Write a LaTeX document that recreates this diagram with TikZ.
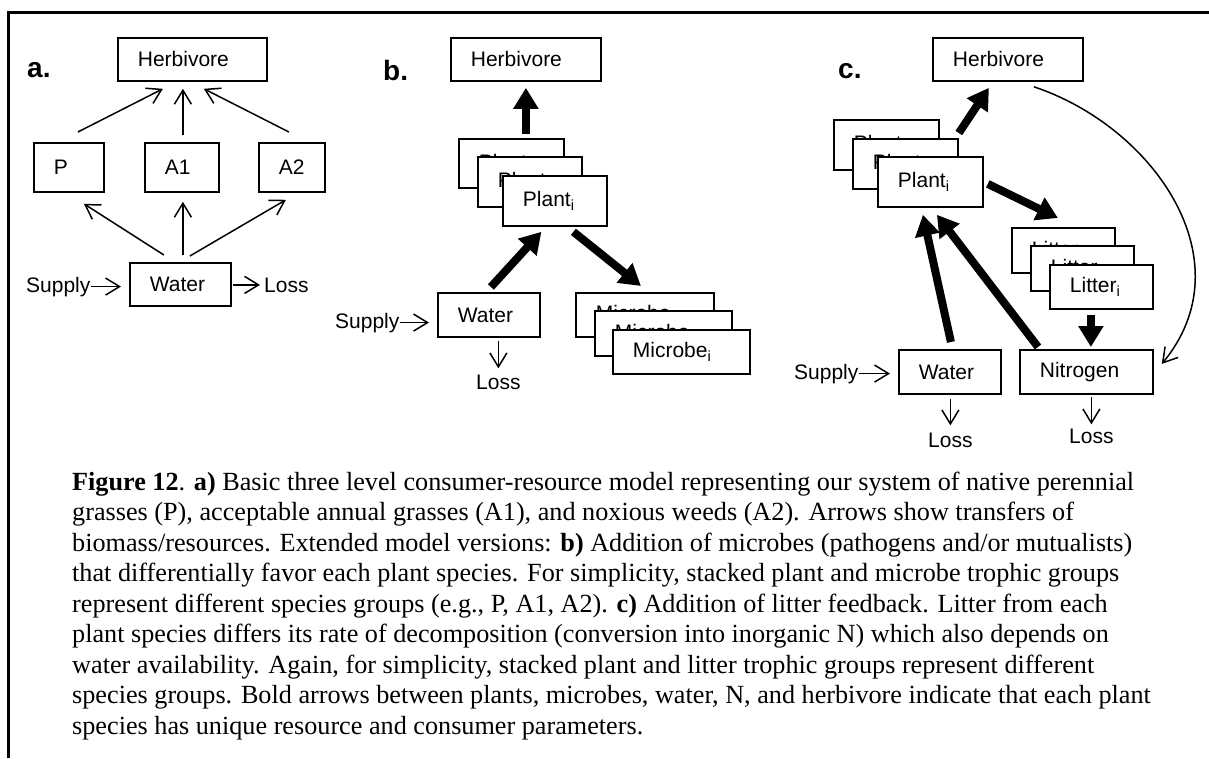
\documentclass[tikz,border=0pt]{standalone}
\usepackage{fontspec}
\setmainfont{Liberation Serif}
\setsansfont{Liberation Sans}
\usetikzlibrary{arrows.meta,calc}
\begin{document}
\begin{tikzpicture}[x=1pt,y=-1pt,
  box/.style={draw, line width=1.8pt, fill=white, anchor=north west, inner xsep=20pt, inner ysep=0pt, align=left, font=\sffamily\fontsize{21}{25}\selectfont},
  lbl/.style={inner sep=0pt, anchor=base west, font=\sffamily\fontsize{21}{25}\selectfont},
  panel/.style={inner sep=0pt, anchor=base west, font=\sffamily\bfseries\fontsize{28}{32}\selectfont},
  thinarrow/.style={line width=1.5pt, -{Straight Barb[length=14pt,width=17pt]}},
  thickarrow/.style={line width=8pt, -{Triangle[length=21pt,width=24pt]}},
  frame/.style={line width=3pt}
]
\useasboundingbox (0,0) rectangle (1209,758);
\draw[frame] (8,758) -- (8,12) -- (1209,12);

% ---------- panel a ----------
\node[panel] (la) at (27,77) {a.};
\node[box, text width=109pt, minimum height=43pt] (Ha) at (117,37) {Herbivore};
\node[box, text width=30pt, minimum height=49pt] (P) at (33,142) {P};
\node[box, text width=34pt, minimum height=49pt] (A1) at (144,142) {A1};
\node[box, text width=26pt, minimum height=49pt] (A2) at (258,142) {A2};
\node[box, text width=61pt, minimum height=43pt] (Wa) at (129,262) {Water};
\node[lbl] (SupA) at (26,292) {Supply};
\node[lbl] (LossA) at (264,292) {Loss};

\draw[thinarrow] ($(P.north)+(9,-10)$) -- ($(Ha.south)+(-29.5,7)$);
\draw[thinarrow] ($(A1.north)+(1,-7)$) -- ($(Ha.south)+(-9.5,7)$);
\draw[thinarrow] ($(A2.north)+(-3,-10)$) -- ($(Ha.south)+(11.5,7)$);
\draw[thinarrow] ($(Wa.north)+(-16.5,-7)$) -- ($(P.south)+(15,11)$);
\draw[thinarrow] ($(Wa.north)+(2.5,-7)$) -- ($(A1.south)+(1,9)$);
\draw[thinarrow] ($(Wa.north)+(9.5,-6)$) -- ($(A2.south)+(-6,7)$);
\draw[thinarrow] (SupA.east) -- ($(SupA.east -| Wa.west)+(-8,0)$);
\draw[thinarrow] ($(Wa.east |- LossA.west)+(1,0)$) -- ($(LossA.west)+(-4,0)$);

% ---------- panel b ----------
\node[panel] (lb) at (383,80) {b.};
\node[box, text width=110pt, minimum height=43pt] (Hb) at (450,37) {Herbivore};
\node[box, text width=65pt, minimum height=49pt] (Pb1) at (458,138) {Plant\textsubscript{i}};
\node[box, text width=64pt, minimum height=50pt] (Pb2) at (477,156) {Plant\textsubscript{i}};
\node[box, text width=64pt, minimum height=50pt] (Pb3) at (502,175) {Plant\textsubscript{i}};
\node[box, text width=62pt, minimum height=44pt] (Wb) at (437,292) {Water};
\node[box, text width=98pt, minimum height=44pt] (Mb1) at (575,292) {Microbe\textsubscript{i}};
\node[box, text width=97pt, minimum height=45pt] (Mb2) at (594,310) {Microbe\textsubscript{i}};
\node[box, text width=97pt, minimum height=44pt] (Mb3) at (612,329) {Microbe\textsubscript{i}};
\node[lbl] (SupB) at (335,328) {Supply};
\node[lbl] (LossB) at (476,389) {Loss};

\draw[thickarrow] ($(Hb.south |- Pb1.north)+(0,-4)$) -- ($(Hb.south)+(0,6)$);
\draw[thickarrow] ($(Wb.north)+(2,-5)$) -- ($(Pb3.south)+(-13.5,5)$);
\draw[thickarrow] ($(Pb3.south)+(18.5,5)$) -- ($(Mb1.north)+(-4,-6)$);
\draw[thinarrow] (SupB.east) -- ($(SupB.east -| Wb.west)+(-8,0)$);
\draw[thinarrow] ($(LossB.north |- Wb.south)+(0,3)$) -- ($(LossB.north)+(0,-6)$);

% ---------- panel c ----------
\node[panel] (lc) at (838,78) {c.};
\node[box, text width=110pt, minimum height=43pt] (Hc) at (932,37) {Herbivore};
\node[box, text width=65pt, minimum height=50pt] (Pc1) at (833,119) {Plant\textsubscript{i}};
\node[box, text width=65pt, minimum height=50pt] (Pc2) at (852,138) {Plant\textsubscript{i}};
\node[box, text width=65pt, minimum height=50pt] (Pc3) at (877,156) {Plant\textsubscript{i}};
\node[box, text width=63pt, minimum height=45pt] (Lc1) at (1011,227) {Litter\textsubscript{i}};
\node[box, text width=63pt, minimum height=45pt] (Lc2) at (1030,245) {Litter\textsubscript{i}};
\node[box, text width=63pt, minimum height=44pt] (Lc3) at (1049,264) {Litter\textsubscript{i}};
\node[box, text width=62pt, minimum height=44pt] (Wc) at (898,349) {Water};
\node[box, text width=93pt, minimum height=44pt] (Nc) at (1019,349) {Nitrogen};
\node[lbl] (SupC) at (794,379) {Supply};
\node[lbl] (LossC1) at (928,447) {Loss};
\node[lbl] (LossC2) at (1069,443) {Loss};

\draw[thickarrow] ($(Pc2.north east)+(0,-5)$) -- ($(Hc.south)+(-19,6)$);
\draw[thickarrow] ($(Pc3.east)+(4,2)$) -- ($(Lc1.north)+(-5.5,-9)$);
\draw[thickarrow] ($(Lc3.south)+(-10.5,5)$) -- ($(Nc.north)+(4.5,-2)$);
\draw[thickarrow] ($(Wc.north)+(1,-7)$) -- ($(Pc3.south)+(-7.5,7)$);
\draw[thickarrow] ($(Nc.north west)+(19,-2)$) -- ($(Pc3.south)+(6.5,7)$);
\draw[thinarrow] ($(Hc.south)+(26,5)$) .. controls +(120,40) and +(85,-103) .. ($(Nc.east)+(8,-8)$);
\draw[thinarrow] (SupC.east) -- ($(SupC.east -| Wc.west)+(-8,0)$);
\draw[thinarrow] ($(LossC1.north |- Wc.south)+(0,4)$) -- ($(LossC1.north)+(0,-7)$);
\draw[thinarrow] ($(LossC2.north |- Nc.south)+(0,2)$) -- ($(LossC2.north)+(0,-4)$);

% ---------- caption ----------
\node[anchor=north west, inner sep=0pt, align=left, font=\fontsize{26.2}{30.5}\selectfont] (cap) at (72,471.5)
{\textbf{Figure 12}. \textbf{a)} Basic three level consumer-resource model representing our system of native perennial\\
grasses (P), acceptable annual grasses (A1), and noxious weeds (A2). Arrows show transfers of\\
biomass/resources. Extended model versions: \textbf{b)} Addition of microbes (pathogens and/or mutualists)\\
that differentially favor each plant species. For simplicity, stacked plant and microbe trophic groups\\
represent different species groups (e.g., P, A1, A2). \textbf{c)} Addition of litter feedback. Litter from each\\
plant species differs its rate of decomposition (conversion into inorganic N) which also depends on\\
water availability. Again, for simplicity, stacked plant and litter trophic groups represent different\\
species groups. Bold arrows between plants, microbes, water, N, and herbivore indicate that each plant\\
species has unique resource and consumer parameters.};
\end{tikzpicture}
\end{document}
